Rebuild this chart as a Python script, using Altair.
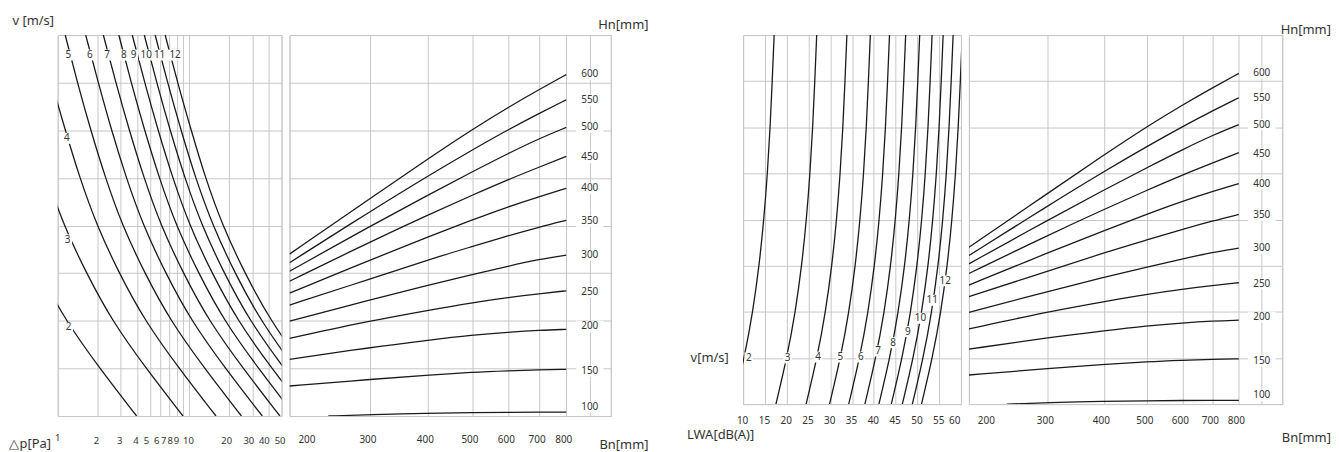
import altair as alt
import pandas as pd

FONT = "Noto Sans"
INK = "#1a1a1a"
TXT = "#333333"
GRID = "#c8c8c8"

# shared vertical grid (chart units: bottom = 0 ... top = 8)
levels = [0, 1, 2, 3, 4, 5, 6, 7, 8]

# ---------- panel 1: pressure drop dp [Pa] at each grid level, per v [m/s]
dp_ticks = [1, 2, 3, 4, 5, 6, 7, 8, 9, 10, 20, 30, 40, 50]
dp_v2 = [3.97, 2.08, 1.15, 0.73, 0.49, 0.37, 0.28, 0.23, 0.18]
dp_v3 = [8.93, 4.68, 2.58, 1.65, 1.11, 0.83, 0.64, 0.51, 0.41]
dp_v4 = [15.9, 8.32, 4.58, 2.92, 1.98, 1.47, 1.14, 0.90, 0.73]
dp_v5 = [24.8, 13.0, 7.16, 4.57, 3.09, 2.30, 1.78, 1.41, 1.14]
dp_v6 = [35.7, 18.7, 10.3, 6.58, 4.45, 3.31, 2.56, 2.03, 1.63]
dp_v7 = [48.6, 25.5, 14.0, 8.96, 6.06, 4.51, 3.49, 2.76, 2.22]
dp_v8 = [63.5, 33.3, 18.3, 11.7, 7.91, 5.89, 4.56, 3.61, 2.91]
dp_v9 = [80.4, 42.1, 23.2, 14.8, 10.0, 7.45, 5.77, 4.57, 3.68]
dp_v10 = [99.2, 52.0, 28.6, 18.3, 12.4, 9.20, 7.12, 5.64, 4.54]
dp_v11 = [120.0, 62.9, 34.7, 22.1, 15.0, 11.1, 8.62, 6.82, 5.49]
dp_v12 = [143.0, 74.9, 41.2, 26.3, 17.8, 13.2, 10.3, 8.12, 6.54]
dp_curves = [dp_v2, dp_v3, dp_v4, dp_v5, dp_v6, dp_v7, dp_v8, dp_v9, dp_v10, dp_v11, dp_v12]
v_names = ["2", "3", "4", "5", "6", "7", "8", "9", "10", "11", "12"]
dp_label_x = [1.21, 1.19, 1.17, 1.205, 1.75, 2.37, 3.17, 3.77, 4.70, 5.93, 7.78]
dp_label_y = [1.86, 3.70, 5.83, 7.58, 7.58, 7.58, 7.58, 7.58, 7.58, 7.58, 7.58]

# ---------- panels 2 and 4: Hn [mm] curves over Bn [mm]
bn_ticks = [200, 300, 400, 500, 600, 700, 800, 900, 1000]
bn = [200, 300, 400, 500, 600, 700, 800]
hn600 = [3.40, 4.57, 5.40, 6.02, 6.49, 6.86, 7.17]
hn550 = [3.22, 4.30, 5.04, 5.59, 6.02, 6.36, 6.64]
hn500 = [3.04, 3.99, 4.64, 5.13, 5.52, 5.83, 6.06]
hn450 = [2.83, 3.66, 4.22, 4.64, 4.97, 5.23, 5.45]
hn400 = [2.58, 3.28, 3.76, 4.12, 4.40, 4.61, 4.78]
hn350 = [2.33, 2.88, 3.28, 3.56, 3.79, 3.97, 4.11]
hn300 = [1.99, 2.44, 2.75, 2.97, 3.15, 3.29, 3.38]
hn250 = [1.63, 2.00, 2.22, 2.38, 2.49, 2.57, 2.63]
hn200 = [1.19, 1.44, 1.59, 1.70, 1.76, 1.80, 1.82]
hn150 = [0.63, 0.77, 0.86, 0.92, 0.95, 0.97, 0.98]
bn_100 = [243, 300, 400, 500, 600, 700, 800]
hn100 = [0.0, 0.03, 0.06, 0.073, 0.078, 0.08, 0.08]
hn_names = ["600", "550", "500", "450", "400", "350", "300", "250", "200", "150", "100"]
hn_curves = [hn600, hn550, hn500, hn450, hn400, hn350, hn300, hn250, hn200, hn150, hn100]
hn_label_bn = 900
hn_label_y = [7.18, 6.64, 6.06, 5.43, 4.78, 4.09, 3.38, 2.61, 1.88, 0.94, 0.19]

# ---------- panel 3: sound power LWA [dB(A)] at each grid level, per v [m/s]
lwa_ticks = [10, 15, 20, 25, 30, 35, 40, 45, 50, 55, 60]
lwa_v2 = [7.76, 10.28, 12.23, 13.68, 14.77, 15.58, 16.21, 16.68, 17.12]
lwa_v3 = [17.53, 20.05, 22.00, 23.45, 24.54, 25.35, 25.98, 26.45, 26.89]
lwa_v4 = [24.46, 26.98, 28.93, 30.38, 31.47, 32.28, 32.91, 33.38, 33.82]
lwa_v5 = [29.84, 32.36, 34.31, 35.76, 36.85, 37.66, 38.29, 38.76, 39.20]
lwa_v6 = [34.24, 36.76, 38.71, 40.16, 41.25, 42.06, 42.69, 43.16, 43.60]
lwa_v7 = [37.95, 40.47, 42.42, 43.87, 44.96, 45.77, 46.40, 46.87, 47.31]
lwa_v8 = [41.17, 43.69, 45.64, 47.09, 48.18, 48.99, 49.62, 50.09, 50.53]
lwa_v9 = [44.01, 46.53, 48.48, 49.93, 51.02, 51.83, 52.46, 52.93, 53.37]
lwa_v10 = [46.55, 49.07, 51.02, 52.47, 53.56, 54.37, 55.00, 55.47, 55.91]
lwa_v11 = [48.84, 51.36, 53.31, 54.76, 55.85, 56.66, 57.29, 57.76, 58.20]
lwa_v12 = [50.94, 53.46, 55.41, 56.86, 57.95, 58.76, 59.39, 59.86, 60.30]
lwa_curves = [lwa_v2, lwa_v3, lwa_v4, lwa_v5, lwa_v6, lwa_v7, lwa_v8, lwa_v9, lwa_v10, lwa_v11, lwa_v12]
lwa_label_x = [11.3, 20.2, 27.2, 32.3, 37.0, 41.0, 44.4, 47.8, 50.7, 53.4, 56.4]
lwa_label_y = [1.00, 1.00, 1.02, 1.02, 1.02, 1.15, 1.33, 1.57, 1.86, 2.25, 2.67]

# ---------------------------------------------------------------- frames
def long_frame(xname, names, xs_list, ys_list):
    rows = []
    for name, xs, ys in zip(names, xs_list, ys_list):
        for xv, yv in zip(xs, ys):
            rows.append({xname: xv, "u": yv, "c": name})
    return pd.DataFrame(rows)

dp_df = long_frame("dp", v_names, dp_curves, [levels] * len(dp_curves))
dp_lab = pd.DataFrame({"dp": dp_label_x, "u": dp_label_y, "t": v_names})
dp_lab["nd"] = dp_lab["t"].str.len().astype(str)

hn_df = long_frame("bn", hn_names, [bn] * 10 + [bn_100], hn_curves)
hn_lab = pd.DataFrame({"bn": [hn_label_bn] * len(hn_names), "u": hn_label_y, "t": hn_names})

lwa_df = long_frame("lwa", v_names, lwa_curves, [levels] * len(lwa_curves))
lwa_lab = pd.DataFrame({"lwa": lwa_label_x, "u": lwa_label_y, "t": v_names})
lwa_lab["nd"] = lwa_lab["t"].str.len().astype(str)

BOX1 = "M-0.8,-1L0.8,-1L0.8,1L-0.8,1Z"
BOX2 = "M-1.3,-1L1.3,-1L1.3,1L-1.3,1Z"
BOX3 = "M-2.3,-0.95L2.3,-0.95L2.3,0.95L-2.3,0.95Z"

box_shape = alt.Shape("nd:N", scale=alt.Scale(domain=["1", "2"], range=[BOX1, BOX2]), legend=None)


def y_enc(axis):
    return alt.Y("u:Q", scale=alt.Scale(domain=[0, 8], nice=False, zero=False), axis=axis)


def hidden_y(title, tx, ty, orient="left", align="left"):
    return alt.Axis(values=levels, grid=True, labels=False, ticks=False, tickSize=0,
                    domain=False, orient=orient, title=title, titleAngle=0,
                    titleX=tx, titleY=ty, titleAlign=align, titleBaseline="middle")


# crowded log labels are nudged left, as in the printed nomogram
dp_label_nudge = {
    "condition": [
        {"test": "datum.value == 5 || datum.value == 6 || datum.value == 30", "value": -4},
        {"test": "datum.value == 7", "value": -6},
        {"test": "datum.value == 8", "value": -7},
        {"test": "datum.value == 9", "value": -7.5},
        {"test": "datum.value == 40", "value": -5},
        {"test": "datum.value == 20", "value": -3},
        {"test": "datum.value == 50", "value": -2},
        {"test": "datum.value == 1", "value": -0.5},
    ],
    "value": -1.5,
}

# ---------------------------------------------------------------- panel 1
xa = alt.X("dp:Q", scale=alt.Scale(type="log", domain=[1, 50], nice=False),
           axis=alt.Axis(values=dp_ticks, format="d", grid=True, ticks=False, tickSize=0,
                         domain=False, labelOverlap=False, labelFlush=False, labelFontSize=9.5,
                         labelPadding={"condition": {"test": "datum.value == 1", "value": 17},
                                       "value": 20},
                         labelOffset=dp_label_nudge,
                         title="△p[Pa]", titleX=-49, titleY=28, titleAlign="left",
                         titleBaseline="middle"))
ya = y_enc(hidden_y("v [m/s]", -46, -15))
pA = alt.layer(
    alt.Chart(dp_df).mark_line(clip=True, color=INK, strokeWidth=1.3, interpolate="basis")
    .encode(x=xa, y=ya, detail="c:N"),
    alt.Chart(dp_lab).mark_point(filled=True, color="white", opacity=1, size=121)
    .encode(x=xa, y=ya, shape=box_shape),
    alt.Chart(dp_lab).mark_text(font=FONT, fontSize=10, color=TXT)
    .encode(x=xa, y=ya, text="t:N"),
).properties(width=225, height=383)


# ---------------------------------------------------------------- panels 2 / 4
def hn_panel(width, height, lab_pad, bx_title, by_title, hx_title, hy_title):
    xb = alt.X("bn:Q", scale=alt.Scale(type="log", domain=[200, 1000], nice=False),
               axis=alt.Axis(values=bn_ticks, format="d", grid=True, ticks=False, tickSize=0,
                             domain=False, labelPadding=lab_pad, labelOverlap=False,
                             labelFlush=False,
                             labelExpr="datum.value > 800 ? '' : datum.label",
                             labelOffset={"condition": {"test": "datum.value == 200", "value": 17},
                                          "value": -3},
                             title="Bn[mm]", titleX=bx_title, titleY=by_title,
                             titleAlign="right", titleBaseline="middle"))
    yb = y_enc(hidden_y("Hn[mm]", hx_title, hy_title, orient="right", align="right"))
    return alt.layer(
        alt.Chart(hn_df).mark_line(clip=True, color=INK, strokeWidth=1.3, interpolate="basis")
        .encode(x=xb, y=yb, detail="c:N"),
        alt.Chart(hn_lab).mark_point(filled=True, color="white", opacity=1, shape=BOX3, size=144)
        .encode(x=xb, y=yb),
        alt.Chart(hn_lab).mark_text(font=FONT, fontSize=10, color=TXT)
        .encode(x=xb, y=yb, text="t:N"),
    ).properties(width=width, height=height)


pB = hn_panel(323, 383, 19, 360.4, 28.5, 37.4, -11)
pD = hn_panel(315, 371, 12, 363.4, 34, 48.4, -5.7)

# ---------------------------------------------------------------- panel 3
xc = alt.X("lwa:Q", scale=alt.Scale(domain=[10, 60], nice=False, zero=False),
           axis=alt.Axis(values=lwa_ticks, format="d", grid=True, ticks=False, tickSize=0,
                         domain=False, labelPadding=12, labelOffset=-1, labelOverlap=False,
                         labelFlush=False,
                         labelAlign={"condition": {"test": "datum.value == 60", "value": "right"},
                                     "value": "center"},
                         title="LWA[dB(A)]", titleX=10.7, titleY=30.5, titleAlign="right",
                         titleBaseline="middle"))
yc = y_enc(hidden_y("v[m/s]", -53.3, 324))
pC = alt.layer(
    alt.Chart(lwa_df).mark_line(clip=True, color=INK, strokeWidth=1.3, interpolate="basis")
    .encode(x=xc, y=yc, detail="c:N"),
    alt.Chart(lwa_lab).mark_point(filled=True, color="white", opacity=1, size=121)
    .encode(x=xc, y=yc, shape=box_shape),
    alt.Chart(lwa_lab).mark_text(font=FONT, fontSize=10, color=TXT)
    .encode(x=xc, y=yc, text="t:N"),
).properties(width=219, height=371)

spacer = alt.Chart(pd.DataFrame({"s": [0]})).mark_point(opacity=0).encode(
    x=alt.value(0), y=alt.value(0)
).properties(width=117, height=10, view=alt.ViewBackground(strokeOpacity=0))

chart = alt.hconcat(pA, pB, spacer, pC, pD, spacing=8, bounds="flush").properties(
    padding={"left": 0, "top": 4, "right": 0, "bottom": 0},
    background="white",
).configure_view(stroke=GRID, strokeWidth=1).configure_axis(
    gridColor=GRID, gridWidth=1, gridOpacity=1,
    labelFont=FONT, labelFontSize=10, labelColor=TXT,
    titleFont=FONT, titleFontSize=13, titleFontWeight="normal", titleColor=TXT,
)

chart.save("out.html", embed_options={"renderer": "svg", "actions": False})
